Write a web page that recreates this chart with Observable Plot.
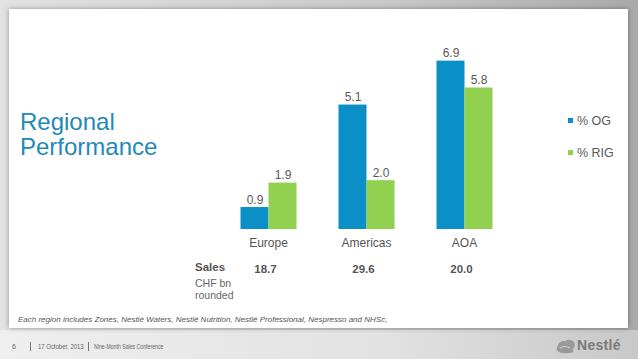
<!DOCTYPE html>
<html>
<head>
<meta charset="utf-8">
<script src="https://cdn.jsdelivr.net/npm/d3@7"></script>
<script src="https://cdn.jsdelivr.net/npm/@observablehq/plot@0.6"></script>
<style>
  html, body { margin: 0; padding: 0; }
  body { width: 638px; height: 359px; position: relative; overflow: hidden;
         background: linear-gradient(to right, #e2e2e2 0%, #c9c9c9 60%, #a9a9a9 100%);
         font-family: "Liberation Sans", Arial, sans-serif; }
  #panel { position: absolute; left: 9px; top: 9px; width: 619px; height: 319px; background: #fff;
           box-shadow: 0 0 5px rgba(0,0,0,0.35); }
  #footerbg { position: absolute; left: 0; top: 330px; width: 638px; height: 29px;
              background: linear-gradient(to right, #efefef 0%, #e2e2e2 60%, #c8c8c8 100%); }
  .abs { position: absolute; white-space: nowrap; }
  #title { left: 20px; top: 109px; font-size: 24px; line-height: 25px; color: #1f8ab5; }
  #chart { position: absolute; left: 0; top: 0; }
  .leg { font-size: 12.5px; color: #595959; }
  .sw { display: inline-block; width: 5px; height: 5px; margin-right: 4px; vertical-align: 2px; }
  #sales { left: 195px; top: 261px; font-size: 11.5px; font-weight: bold; color: #555; }
  #chf { left: 195px; top: 277px; font-size: 10.5px; line-height: 12px; color: #666; }
  #note { left: 18px; top: 315px; font-size: 8px; font-style: italic; color: #555; }
  .foot { font-size: 7px; color: #666; top: 343px; transform-origin: left center; }
  .sep { position: absolute; top: 342px; width: 1px; height: 9px; background: #777; }
  #nestle { left: 577px; top: 337px; font-size: 14px; font-weight: bold; color: #7a7a7a; letter-spacing: 0.3px; }
</style>
</head>
<body>
<div id="footerbg"></div>
<div id="panel"></div>
<div id="title" class="abs">Regional<br>Performance</div>
<div id="legend"></div>
<div id="sales" class="abs">Sales</div>
<div id="chf" class="abs">CHF bn<br>rounded</div>
<div id="note" class="abs">Each region includes Zones, Nestlé Waters, Nestlé Nutrition, Nestlé Professional, Nespresso and NHSc,</div>
<div class="abs foot" style="left:12px">6</div>
<div class="sep" style="left:30px"></div>
<div class="abs foot" style="left:38px; transform:scaleX(0.85)">17 October, 2013</div>
<div class="sep" style="left:88px"></div>
<div class="abs foot" style="left:94px; transform:scaleX(0.74)">Nine-Month Sales Conference</div>
<svg class="abs" style="left:555px; top:337px" width="22" height="18" viewBox="0 0 22 18">
  <path d="M2 10 Q4 3 10 4 Q15 1 19 5 Q21 9 18 12 Q20 16 14 16 Q8 17 4 15 Q1 14 2 10 Z" fill="#9a9a9a"/>
  <path d="M5 11 Q9 8 15 11" stroke="#d0d0d0" stroke-width="1.2" fill="none"/>
</svg>
<div id="nestle" class="abs">Nestlé</div>
<div id="chart"></div>
<script>
const regions = ["Europe", "Americas", "AOA"];
const seriesNames = ["% OG", "% RIG"];
const ogValues = [0.9, 5.1, 6.9];
const rigValues = [1.9, 2.0, 5.8];
const salesValues = [18.7, 29.6, 20.0];
const seriesColors = ["#0a8fc6", "#92d050"];

const data = regions.flatMap((r, i) => [
  {region: r, series: seriesNames[0], value: ogValues[i]},
  {region: r, series: seriesNames[1], value: rigValues[i]}
]);
const salesData = regions.map((r, i) => ({region: r, sales: salesValues[i]}));

const chart = Plot.plot({
  width: 638,
  height: 310,
  marginLeft: 239.5,
  marginRight: 146.5,
  marginTop: 58.2,
  marginBottom: 81,
  style: {background: "transparent", fontFamily: "Liberation Sans, Arial, sans-serif", fontSize: "12px", color: "#555"},
  fx: {domain: regions, paddingInner: 0.4286, paddingOuter: 0, label: null, tickSize: 0, tickPadding: 9},
  x: {domain: seriesNames, padding: 0, axis: null},
  y: {domain: [0, 7], axis: null},
  color: {domain: seriesNames, range: seriesColors},
  marks: [
    Plot.barY(data, {fx: "region", x: "series", y: "value", fill: "series"}),
    Plot.text(data, {fx: "region", x: "series", y: "value", text: d => d.value.toFixed(1),
      lineAnchor: "bottom", dy: -4, fill: "#595959", fontSize: 12}),
    Plot.text(salesData, {fx: "region", text: d => d.sales.toFixed(1), frameAnchor: "bottom",
      lineAnchor: "bottom", dy: 43, dx: -3, fontWeight: "bold", fontSize: 11.5, fill: "#555"})
  ]
});
document.getElementById("chart").appendChild(chart);

const legend = document.getElementById("legend");
seriesNames.forEach((s, i) => {
  const d = document.createElement("div");
  d.className = "abs leg";
  d.style.left = "568px";
  d.style.top = (114 + i * 31.5) + "px";
  d.innerHTML = `<span class="sw" style="background:${seriesColors[i]}"></span>${s}`;
  legend.appendChild(d);
});
</script>
</body>
</html>
